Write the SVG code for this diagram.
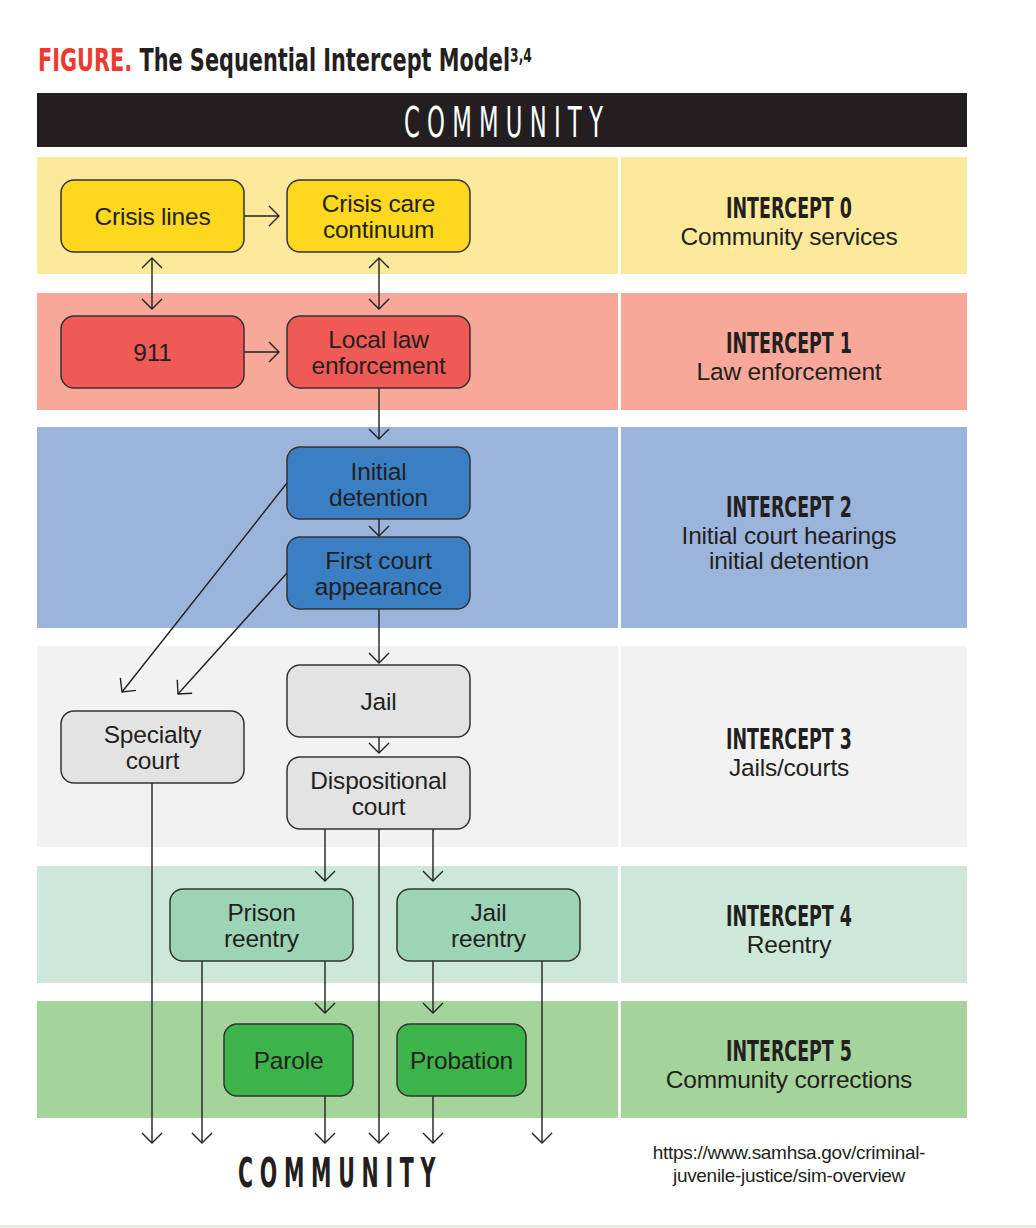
<svg xmlns="http://www.w3.org/2000/svg" width="1036" height="1228" viewBox="0 0 1036 1228">
<style>
.cond{font-family:"Liberation Sans Narrow","DejaVu Sans Condensed","Roboto Condensed","DejaVu Sans",sans-serif;}
.b{font-weight:bold;}
.ink{fill:#231f20;}
.lbl{font-family:"Liberation Sans",Arial,Helvetica,sans-serif;font-size:24.5px;letter-spacing:-0.2px;fill:#231f20;text-anchor:middle;}
.node rect{stroke:#333;stroke-width:1.5;}
.conn path{fill:none;stroke:#231f20;stroke-width:1.4;}
.arr{marker-end:url(#chev);}
.dbl{marker-start:url(#chev);marker-end:url(#chev);}
.ic{font-size:28px;text-anchor:middle;}
</style>
<defs>
<marker id="chev" viewBox="0 0 22 22" refX="20" refY="11" markerWidth="22" markerHeight="22" markerUnits="userSpaceOnUse" orient="auto-start-reverse">
<path d="M10 1 L20 11 L10 21" fill="none" stroke="#231f20" stroke-width="1.4"/>
</marker>
</defs>
<rect x="0" y="0" width="1036" height="1228" fill="#ffffff"/>

<!-- title -->
<g id="title" transform="translate(38 71) scale(0.724 1)">
<text x="0" y="0" class="cond b ink" font-size="32"><tspan fill="#ee3a2e">FIGURE.</tspan> The Sequential Intercept Model<tspan font-size="19" dy="-9">3,4</tspan></text>
</g>

<!-- top bar -->
<g id="community-top">
<rect x="37" y="93" width="930" height="54" fill="#231f20"/>
<text x="404" y="137" class="cond" font-size="42" fill="#ffffff" letter-spacing="12" textLength="206" lengthAdjust="spacingAndGlyphs">COMMUNITY</text>
</g>

<!-- bands -->
<g id="bands">
<rect x="37" y="157" width="581" height="117" fill="#fde99a"/>
<rect x="621" y="157" width="346" height="117" fill="#fde99a"/>
<rect x="37" y="293" width="581" height="117" fill="#f7a898"/>
<rect x="621" y="293" width="346" height="117" fill="#f7a898"/>
<rect x="37" y="427" width="581" height="201" fill="#9bb4dc"/>
<rect x="621" y="427" width="346" height="201" fill="#9bb4dc"/>
<rect x="37" y="646" width="581" height="201" fill="#f2f2f2"/>
<rect x="621" y="646" width="346" height="201" fill="#f2f2f2"/>
<rect x="37" y="866" width="581" height="117" fill="#cde8d8"/>
<rect x="621" y="866" width="346" height="117" fill="#cde8d8"/>
<rect x="37" y="1001" width="581" height="117" fill="#a5d39c"/>
<rect x="621" y="1001" width="346" height="117" fill="#a5d39c"/>
</g>

<!-- intercept labels -->
<g id="intercept-0">
<text x="789" y="218" class="cond b ink ic" textLength="126" lengthAdjust="spacingAndGlyphs">INTERCEPT 0</text>
<text x="789" y="245" class="lbl">Community services</text>
</g>
<g id="intercept-1">
<text x="789" y="353" class="cond b ink ic" textLength="126" lengthAdjust="spacingAndGlyphs">INTERCEPT 1</text>
<text x="789" y="380" class="lbl">Law enforcement</text>
</g>
<g id="intercept-2">
<text x="789" y="517" class="cond b ink ic" textLength="126" lengthAdjust="spacingAndGlyphs">INTERCEPT 2</text>
<text x="789" y="544" class="lbl">Initial court hearings</text>
<text x="789" y="569" class="lbl">initial detention</text>
</g>
<g id="intercept-3">
<text x="789" y="749" class="cond b ink ic" textLength="126" lengthAdjust="spacingAndGlyphs">INTERCEPT 3</text>
<text x="789" y="776" class="lbl">Jails/courts</text>
</g>
<g id="intercept-4">
<text x="789" y="926" class="cond b ink ic" textLength="126" lengthAdjust="spacingAndGlyphs">INTERCEPT 4</text>
<text x="789" y="953" class="lbl">Reentry</text>
</g>
<g id="intercept-5">
<text x="789" y="1061" class="cond b ink ic" textLength="126" lengthAdjust="spacingAndGlyphs">INTERCEPT 5</text>
<text x="789" y="1088" class="lbl">Community corrections</text>
</g>

<!-- connectors -->
<g id="connectors" class="conn">
<path class="arr" d="M244 216 H279"/>
<path class="arr" d="M244 352 H279"/>
<path class="dbl" d="M152 258 V309"/>
<path class="dbl" d="M379 258 V309"/>
<path class="arr" d="M379 388 V439"/>
<path class="arr" d="M379 519 V536"/>
<path class="arr" d="M287 483 L122 692"/>
<path class="arr" d="M287 573 L178 694"/>
<path class="arr" d="M379 609 V663"/>
<path class="arr" d="M379 737 V753"/>
<path class="arr" d="M325 829 V881"/>
<path class="arr" d="M433 829 V881"/>
<path class="arr" d="M379 829 V1143"/>
<path class="arr" d="M152 783 V1143"/>
<path class="arr" d="M325 961 V1013"/>
<path class="arr" d="M202 961 V1143"/>
<path class="arr" d="M433 961 V1013"/>
<path class="arr" d="M542 961 V1143"/>
<path class="arr" d="M325 1096 V1143"/>
<path class="arr" d="M433 1096 V1143"/>
</g>

<!-- nodes -->
<g id="crisis-lines" class="node">
<rect x="61" y="180" width="183" height="72" rx="13" fill="#fdd81e"/>
<text x="152.5" y="225" class="lbl">Crisis lines</text>
</g>
<g id="crisis-care" class="node">
<rect x="287" y="180" width="183" height="72" rx="13" fill="#fdd81e"/>
<text x="378.5" y="212" class="lbl">Crisis care</text>
<text x="378.5" y="238" class="lbl">continuum</text>
</g>
<g id="n911" class="node">
<rect x="61" y="316" width="183" height="72" rx="13" fill="#f05a55"/>
<text x="152.5" y="361" class="lbl">911</text>
</g>
<g id="local-law" class="node">
<rect x="287" y="316" width="183" height="72" rx="13" fill="#f05a55"/>
<text x="378.5" y="348" class="lbl">Local law</text>
<text x="378.5" y="374" class="lbl">enforcement</text>
</g>
<g id="initial-detention" class="node">
<rect x="287" y="447" width="183" height="72" rx="13" fill="#3a7fc4"/>
<text x="378.5" y="480" class="lbl">Initial</text>
<text x="378.5" y="506" class="lbl">detention</text>
</g>
<g id="first-court" class="node">
<rect x="287" y="537" width="183" height="72" rx="13" fill="#3a7fc4"/>
<text x="378.5" y="569" class="lbl">First court</text>
<text x="378.5" y="595" class="lbl">appearance</text>
</g>
<g id="jail" class="node">
<rect x="287" y="665" width="183" height="72" rx="13" fill="#e3e3e3"/>
<text x="378.5" y="710" class="lbl">Jail</text>
</g>
<g id="specialty-court" class="node">
<rect x="61" y="711" width="183" height="72" rx="13" fill="#e3e3e3"/>
<text x="152.5" y="743" class="lbl">Specialty</text>
<text x="152.5" y="769" class="lbl">court</text>
</g>
<g id="dispositional-court" class="node">
<rect x="287" y="757" width="183" height="72" rx="13" fill="#e3e3e3"/>
<text x="378.5" y="789" class="lbl">Dispositional</text>
<text x="378.5" y="815" class="lbl">court</text>
</g>
<g id="prison-reentry" class="node">
<rect x="170" y="889" width="183" height="72" rx="13" fill="#9dd4b5"/>
<text x="261.5" y="921" class="lbl">Prison</text>
<text x="261.5" y="947" class="lbl">reentry</text>
</g>
<g id="jail-reentry" class="node">
<rect x="397" y="889" width="183" height="72" rx="13" fill="#9dd4b5"/>
<text x="488.5" y="921" class="lbl">Jail</text>
<text x="488.5" y="947" class="lbl">reentry</text>
</g>
<g id="parole" class="node">
<rect x="224" y="1024" width="129" height="72" rx="13" fill="#3db449"/>
<text x="288.5" y="1069" class="lbl">Parole</text>
</g>
<g id="probation" class="node">
<rect x="397" y="1024" width="129" height="72" rx="13" fill="#3db449"/>
<text x="461.5" y="1069" class="lbl">Probation</text>
</g>

<!-- bottom -->
<g id="community-bottom">
<text x="238" y="1187" class="cond b ink" font-size="41" letter-spacing="12" textLength="204" lengthAdjust="spacingAndGlyphs">COMMUNITY</text>
</g>
<g id="source">
<text x="789" y="1159" font-family="'Liberation Sans',Arial,sans-serif" font-size="19" letter-spacing="-0.3" fill="#231f20" text-anchor="middle">https://www.samhsa.gov/criminal-</text>
<text x="789" y="1182" font-family="'Liberation Sans',Arial,sans-serif" font-size="19" letter-spacing="-0.3" fill="#231f20" text-anchor="middle">juvenile-justice/sim-overview</text>
</g>
<rect x="0" y="1225" width="1036" height="3" fill="#ebebe6"/>
</svg>
